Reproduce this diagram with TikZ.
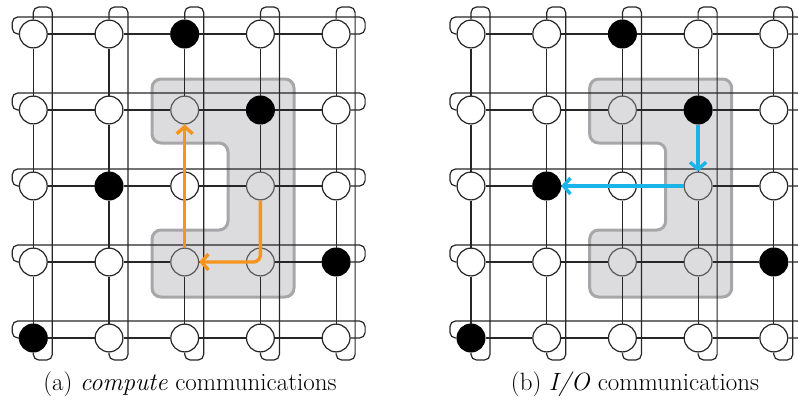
\documentclass[tikz,border=0pt]{standalone}
\usetikzlibrary{arrows.meta}
\definecolor{zonegray}{HTML}{DCDCDE}
\definecolor{zoneedge}{HTML}{A7A7A9}
\definecolor{computeorange}{HTML}{F7941D}
\definecolor{ioblue}{HTML}{1BB4E9}

\begin{document}
\begin{tikzpicture}[
      x=1pt, y=-1pt,
      free/.style={circle,
                   draw=black!85,
                   fill=white,
                   line width=1.2pt,
                   minimum size=27.8pt,
                   inner sep=0pt},
      busy/.style={free,
                   fill=black,
                   draw=black},
      member/.style={free,
                     fill=zonegray,
                     draw=black!65},
      link/.style={draw=black!85,
                   line width=1.2pt},
      wrap/.style={link,
                   rounded corners=5.5pt},
      zone/.style={fill=zonegray,
                   draw=zoneedge,
                   line width=3pt,
                   rounded corners=9pt},
      flow/.style={line width=3.4pt,
                   rounded corners=7pt,
                   -{Straight Barb[length=7pt,width=16pt]}},
      caption/.style={font=\fontsize{25}{29}\selectfont}
    ]

    \useasboundingbox (0,0) rectangle (798,408);

    % one torus per panel
    \foreach \p/\dx in {a/0, b/437.7}
    {
      \begin{scope}[xshift=\dx pt]
        \draw[zone] (152,79) -- (294,79) -- (294,297) -- (152,297)
                    -- (152,230) -- (228,230) -- (228,143) -- (152,143)
                    -- cycle;

        \foreach \r/\c/\kind in {0/0/free, 0/1/free, 0/2/busy, 0/3/free, 0/4/free,
                                 1/0/free, 1/1/free, 1/2/member, 1/3/busy, 1/4/free,
                                 2/0/free, 2/1/busy, 2/2/free, 2/3/member, 2/4/free,
                                 3/0/free, 3/1/free, 3/2/member, 3/3/member, 3/4/busy,
                                 4/0/busy, 4/1/free, 4/2/free, 4/3/free, 4/4/free}
          \draw ({33.3+75.7*\c},{34+76*\r})
                node[\kind]
                (\p-\r-\c)
                {};

        \foreach \r in {0,...,4}
        {
          \foreach \c [evaluate=\c as \n using int(\c+1)] in {0,...,3}
          {
            \draw[link] (\p-\r-\c) -- (\p-\r-\n);
            \draw[link] (\p-\c-\r) -- (\p-\n-\r);
          }
          % wrap-around links
          \draw[wrap] (\p-\r-0.west)
                      -- ([xshift=-21pt]\p-\r-0.center)
                      -- ([xshift=-21pt,yshift=17pt]\p-\r-0.center)
                      -- ([xshift=29pt,yshift=17pt]\p-\r-4.center)
                      -- ([xshift=29pt]\p-\r-4.center)
                      -- (\p-\r-4.east);
          \draw[wrap] (\p-0-\r.north)
                      -- ([yshift=27pt]\p-0-\r.center)
                      -- ([xshift=19pt,yshift=27pt]\p-0-\r.center)
                      -- ([xshift=19pt,yshift=-22pt]\p-4-\r.center)
                      -- ([yshift=-22pt]\p-4-\r.center)
                      -- (\p-4-\r.south);
        }
      \end{scope}
    }

    \draw [flow,computeorange] (a-2-3.south) |- (a-3-2.east);
    \draw [flow,computeorange] (a-3-2.north) -- (a-1-2.south);
    \draw [flow,ioblue] (b-1-3.south) -- (b-2-3.north);
    \draw [flow,ioblue] (b-2-3.west) -- (b-2-1.east);

    \draw (190,384)
          node[caption]
          (capa)
          {(a) \textit{compute} communications};
    \draw (635,384)
          node[caption]
          (capb)
          {(b) \textit{I/O} communications};

\end{tikzpicture}
\end{document}
